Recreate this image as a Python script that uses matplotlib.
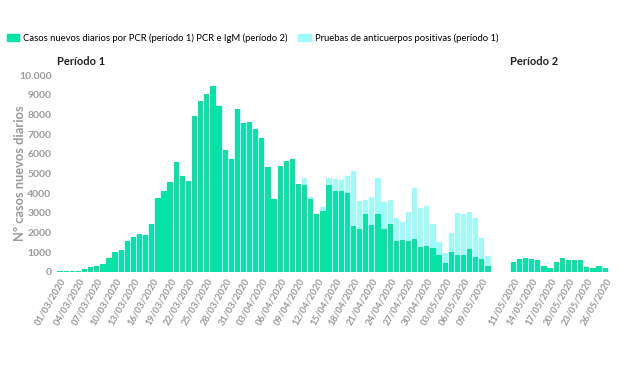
import numpy as np
import pandas as pd
import matplotlib
matplotlib.use('Agg')
import matplotlib.pyplot as plt

# daily values
# period 1: 01/03/2020 - 10/05/2020
pcr_p1 = [40, 40, 60, 60, 150, 250, 320, 390, 730, 1015,
          1117, 1560, 1790, 1950, 1900, 2450, 3740, 4090, 4580, 5600,
          4870, 4600, 7935, 8680, 9020, 9440, 8410, 6190, 5720, 8270,
          7580, 7610, 7260, 6800, 5350, 3720, 5380, 5620, 5740, 4470,
          4430, 3700, 2930, 3110, 4400, 4110, 4110, 4030, 2350, 2180,
          2960, 2370, 2940, 2180, 2440, 1570, 1620, 1560, 1680, 1270,
          1340, 1200, 860, 440, 1015, 860, 860, 1150, 780, 640, 320]
# tops of the stacked bars (pcr + anticuerpos)
total_p1 = [40, 40, 60, 60, 150, 250, 320, 390, 730, 1015,
            1117, 1560, 1790, 1950, 1900, 2450, 3740, 4090, 4580, 5600,
            4870, 4600, 7935, 8680, 9020, 9440, 8410, 6190, 5720, 8270,
            7580, 7610, 7260, 6800, 5350, 3720, 5380, 5620, 5740, 4470,
            4790, 3800, 2930, 3300, 4750, 4700, 4670, 4890, 5130, 3590,
            3670, 3810, 4790, 3570, 3640, 2720, 2550, 3030, 4250, 3230,
            3330, 2440, 1520, 960, 1960, 3010, 2940, 3030, 2720, 1710, 810]
anti_p1 = [t - p for t, p in zip(total_p1, pcr_p1)]

# period 2: 11/05/2020 - 26/05/2020
pcr_p2 = [510, 660, 710, 660, 610, 305, 190, 510, 690, 610,
          610, 610, 250, 200, 300, 200]

dates_p1 = pd.date_range('2020-03-01', '2020-05-10').strftime('%d/%m/%Y')
dates_p2 = pd.date_range('2020-05-11', '2020-05-26').strftime('%d/%m/%Y')

green = '#05E3A6'
cyan = '#9FFBFA'
grey = '#9a9a9a'

plt.rcParams['font.family'] = ['Lato', 'DejaVu Sans']

fig = plt.figure(figsize=(6.2, 3.68), dpi=100)
ax1 = fig.add_axes([0.092, 0.261, 0.700, 0.535])
ax2 = fig.add_axes([0.823, 0.261, 0.158, 0.535])

x1 = np.arange(len(pcr_p1))
x2 = np.arange(len(pcr_p2))
ax1.bar(x1, pcr_p1, width=0.86, color=green, linewidth=0)
ax1.bar(x1, anti_p1, width=0.86, bottom=pcr_p1, color=cyan, linewidth=0)
ax2.bar(x2, pcr_p2, width=0.86, color=green, linewidth=0)

for ax, n, labels in [(ax1, len(x1), dates_p1), (ax2, len(x2), dates_p2)]:
    ax.set_xlim(-0.5, n - 0.5)
    ax.set_ylim(0, 10000)
    for s in ax.spines.values():
        s.set_visible(False)
    ax.tick_params(length=0)
    idx = list(range(0, n, 3))
    ax.set_xticks(idx)
    ax.set_xticklabels([labels[i] for i in idx], rotation=60, ha='right',
                       rotation_mode='anchor', fontsize=6.8, color=grey,
                       fontweight='bold')

ax1.set_yticks(range(0, 10001, 1000))
ax1.set_yticklabels([str(v) if v < 10000 else '10.000' for v in range(0, 10001, 1000)],
                    fontsize=7.5, color=grey, fontweight='bold')
ax1.tick_params(axis='y', pad=4)
ax1.set_ylabel('Nº casos nuevos diarios', fontsize=9.3, color=grey,
               fontweight='bold', va='center')
ax1.yaxis.set_label_coords(-0.085, 0.5)
ax2.set_yticks([])

ax1.text(0.0, 1.04, 'Período 1', transform=ax1.transAxes, fontsize=8,
         fontweight='bold', color='#222222', ha='left', va='bottom')
ax2.text(0.0, 1.04, 'Período 2', transform=ax2.transAxes, fontsize=8,
         fontweight='bold', color='#222222', ha='left', va='bottom')

# legend across the top
h1 = plt.Rectangle((0, 0), 1, 1, color=green)
h2 = plt.Rectangle((0, 0), 1, 1, color=cyan)
fig.legend([h1, h2],
           ['Casos nuevos diarios por PCR (período 1) PCR e IgM (período 2)',
            'Pruebas de anticuerpos positivas (período 1)'],
           loc='center left', bbox_to_anchor=(0.0, 1 - 38 / 368), ncol=2,
           frameon=False, fontsize=6.8, handlelength=1.3, handleheight=0.8,
           handletextpad=0.4, columnspacing=1.2, borderaxespad=0.3)

fig.savefig('out.png', dpi=100)
